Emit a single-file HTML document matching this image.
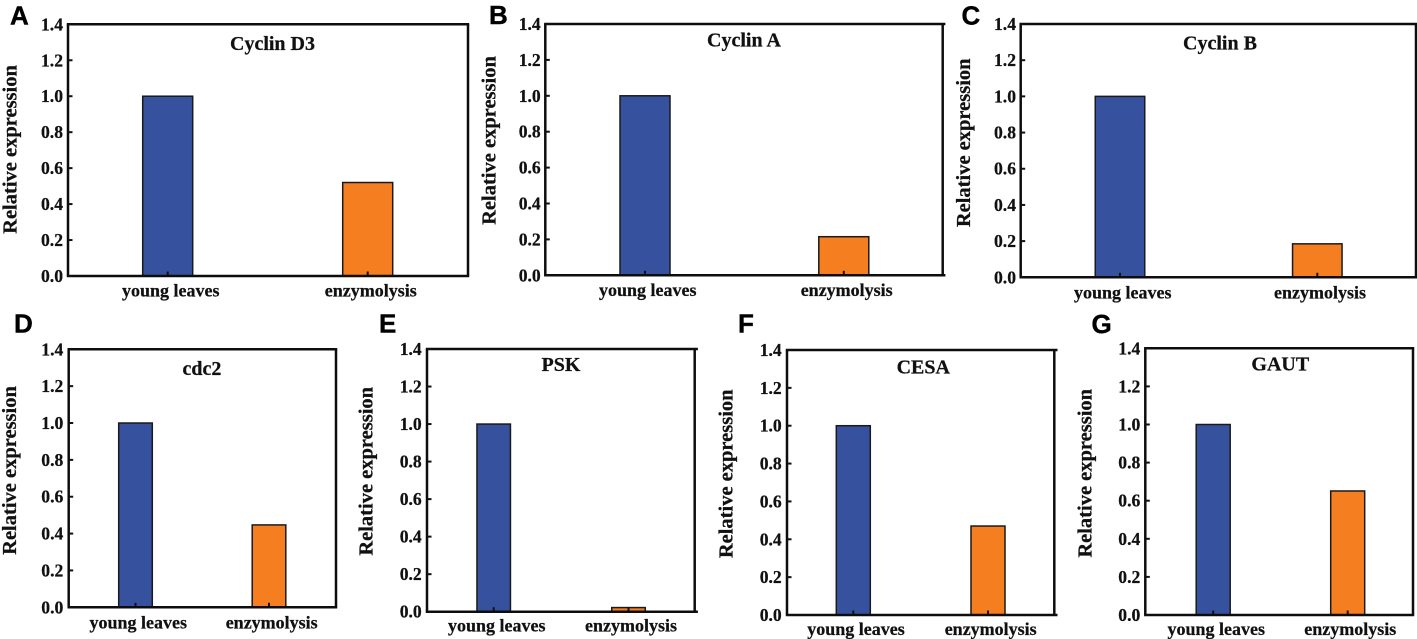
<!DOCTYPE html>
<html lang="en">
<head>
<meta charset="utf-8">
<title>Relative expression of seven genes</title>
<style>
  html, body { margin: 0; padding: 0; background: #fff; }
  body { width: 1417px; height: 639px; overflow: hidden; }
  svg { display: block; }
  text { font-family: "Liberation Serif", serif; font-weight: bold; fill: #111; stroke: #111; stroke-width: 0.25px; }
  .panel-letter { font-family: "Liberation Sans", sans-serif; font-size: 26px; fill: #000; stroke: #000; stroke-width: 0.4px; }
  .tick-label { font-size: 17.6px; text-anchor: end; }
  .category-label { font-size: 18px; text-anchor: middle; }
  .gene-title { font-size: 20px; text-anchor: middle; }
  .y-title { font-size: 20.5px; text-anchor: middle; }
</style>
</head>
<body>
<svg id="figure" width="1417" height="639" viewBox="0 0 1417 639" xmlns="http://www.w3.org/2000/svg"></svg>
<script>
// ---- chart data ----
const categories = ["young leaves", "enzymolysis"];
const tickLabels = ["0.0", "0.2", "0.4", "0.6", "0.8", "1.0", "1.2", "1.4"];
const tickValues = [0, 0.2, 0.4, 0.6, 0.8, 1.0, 1.2, 1.4];
const yAxisTitle = "Relative expression";
const panelLetters = ["A", "B", "C", "D", "E", "F", "G"];
const geneTitles = ["Cyclin D3", "Cyclin A", "Cyclin B", "cdc2", "PSK", "CESA", "GAUT"];
const cyclinD3Values = [1.0, 0.52];
const cyclinAValues = [1.0, 0.215];
const cyclinBValues = [1.0, 0.185];
const cdc2Values = [1.0, 0.447];
const pskValues = [1.0, 0.022];
const cesaValues = [1.0, 0.47];
const gautValues = [1.0, 0.651];
const panelValues = [cyclinD3Values, cyclinAValues, cyclinBValues, cdc2Values, pskValues, cesaValues, gautValues];
const barColors = ["#36529f", "#f57e21"];
const yMax = 1.4;

// ---- page layout (one entry per panel) ----
const layouts = [
  { l: 68,    r: 468,    t: 24.3, b: 276,   c0: 167.7,  step: 200,   bw: 50,   lab0: 170.8,  labStep: 200,   labY: 296.5, titleX: 272.5,  titleY: 50,    yX: 16.7,  yC: 149.5, tickR: 63,    letX: 10,   letY: 24.3, over: 0 },
  { l: 545.3, r: 942.7,  t: 24,   b: 275.3, c0: 645,    step: 198.8, bw: 50,   lab0: 647.7,  labStep: 199,   labY: 296,   titleX: 744,    titleY: 46.7,  yX: 495.7, yC: 140.5, tickR: 540.7, letX: 489,  letY: 24,   over: 1.5 },
  { l: 1020.7, r: 1416,  t: 24,   b: 277.3, c0: 1120,   step: 197.3, bw: 49.5, lab0: 1122.7, labStep: 197.3, labY: 298.7, titleX: 1220,   titleY: 49.3,  yX: 970,   yC: 142.8, tickR: 1016,  letX: 961.5, letY: 24.7, over: 0 },
  { l: 68.7,  r: 336,    t: 349.3, b: 607.3, c0: 135.5, step: 133.5, bw: 33.6, lab0: 138.3,  labStep: 133.4, labY: 628.3, titleX: 202,    titleY: 375,   yX: 16,    yC: 470.5, tickR: 63.3,  letX: 14,   letY: 332.7, over: 0 },
  { l: 427,   r: 694.7,  t: 349,  b: 611.7, c0: 493.7,  step: 134.8, bw: 33.5, lab0: 496.7,  labStep: 134.3, labY: 631.7, titleX: 561,    titleY: 371,   yX: 372.7, yC: 471.3, tickR: 421.7, letX: 379,  letY: 332.7, over: 2 },
  { l: 787,   r: 1054.3, t: 350,  b: 615,   c0: 853.3,  step: 134.7, bw: 34,   lab0: 856,    labStep: 134.7, labY: 635,   titleX: 923.3,  titleY: 373.3, yX: 732.7, yC: 473.8, tickR: 781.7, letX: 738,  letY: 332.3, over: 2 },
  { l: 1145.3, r: 1413,  t: 348.3, b: 615,  c0: 1213.2, step: 134.5, bw: 34,   lab0: 1216.3, labStep: 134,   labY: 635,   titleX: 1280.3, titleY: 370.7, yX: 1091.3, yC: 473.3, tickR: 1140.3, letX: 1091.5, letY: 333.2, over: 0 }
];

const svg = document.getElementById("figure");
const NS = "http://www.w3.org/2000/svg";

function make(parent, tag, attrs, content) {
  const el = document.createElementNS(NS, tag);
  for (const k in attrs) el.setAttribute(k, attrs[k]);
  if (content !== undefined) el.textContent = content;
  parent.appendChild(el);
  return el;
}

function drawPanel(i) {
  const p = layouts[i];
  const values = panelValues[i];
  const slug = geneTitles[i].toLowerCase().replace(/\s+/g, "-");
  const yScale = v => p.b - (v / yMax) * (p.b - p.t);
  const xCenter = k => p.c0 + k * p.step;
  const xLabel = k => p.lab0 + k * p.labStep;

  const g = make(svg, "g", {});
  
  

  const letter = make(g, "text", { x: p.letX, y: p.letY, class: "panel-letter" }, panelLetters[i]);
  
  

  values.forEach((v, k) => {
    const top = yScale(v);
    const bar = make(g, "rect", {
      x: xCenter(k) - p.bw / 2, y: top, width: p.bw, height: p.b - top,
      fill: barColors[k], stroke: "#1a1a1a", "stroke-width": 1.5
    });
    
    

    const tick = make(g, "line", {
      x1: xCenter(k), x2: xCenter(k), y1: p.b, y2: p.b - 4.5,
      stroke: "#111", "stroke-width": 2
    });
    
    

    const label = make(g, "text", { x: xLabel(k), y: p.labY, class: "category-label" }, categories[k]);
    
    
  });

  const frameLines = [
    ["frame-top", p.l - 1.2, p.t, p.r + p.over + 1.2, p.t],
    ["frame-bottom", p.l - 1.2, p.b, p.r + p.over + 1.2, p.b],
    ["frame-left", p.l, p.t, p.l, p.b],
    ["frame-right", p.r, p.t, p.r, p.b]
  ];
  frameLines.forEach(f => {
    const line = make(g, "line", { x1: f[1], y1: f[2], x2: f[3], y2: f[4], stroke: "#0d0d0d", "stroke-width": 2.5 });
    
    
  });

  tickValues.forEach((v, k) => {
    const y = yScale(v);
    const tick = make(g, "line", { x1: p.l, x2: p.l + 4.5, y1: y, y2: y, stroke: "#111", "stroke-width": 2 });
    
    

    const label = make(g, "text", { x: p.tickR, y: y + 6, class: "tick-label" }, tickLabels[k]);
    
    
  });

  const title = make(g, "text", { x: p.titleX, y: p.titleY, class: "gene-title" }, geneTitles[i]);
  
  

  const yTitle = make(g, "text", {
    x: p.yX, y: p.yC, class: "y-title",
    transform: "rotate(-90 " + p.yX + " " + p.yC + ")"
  }, yAxisTitle);
  
  
}

panelValues.forEach((_, i) => drawPanel(i));
</script>
</body>
</html>
